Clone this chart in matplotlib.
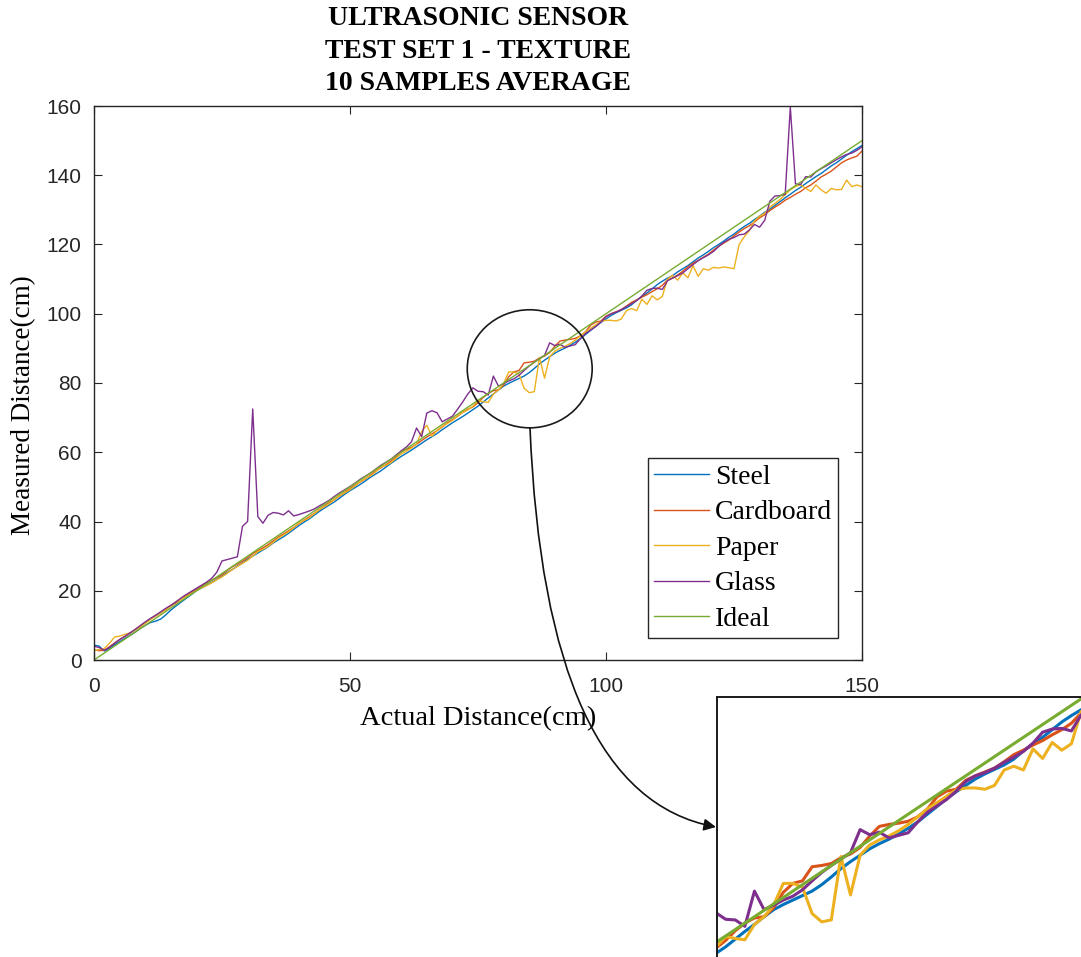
import matplotlib
matplotlib.use('Agg')
import matplotlib.pyplot as plt
from matplotlib.patches import Ellipse, FancyArrowPatch
from matplotlib.path import Path
from matplotlib.transforms import Affine2D

# actual distance steps (cm)
actual = list(range(151))

steel = [
    4.3, 4.0, 2.6, 3.3, 4.4, 5.3, 6.2, 7.1, 8.0, 9.1,
    10.0, 10.8, 11.2, 11.8, 13.0, 14.4, 15.6, 16.7, 17.8, 18.9,
    20.0, 20.8, 21.6, 22.4, 23.3, 24.2, 25.2, 26.1, 27.1, 28.0,
    29.1, 30.0, 30.9, 31.8, 32.7, 33.8, 34.7, 35.6, 36.6, 37.7,
    38.8, 39.8, 40.7, 41.8, 42.9, 43.9, 44.8, 45.7, 46.8, 47.9,
    48.9, 49.8, 50.7, 51.7, 52.8, 53.7, 54.6, 55.7, 56.8, 57.8,
    58.8, 59.7, 60.6, 61.6, 62.6, 63.6, 64.5, 65.4, 66.5, 67.5,
    68.5, 69.4, 70.3, 71.3, 72.3, 73.3, 74.5, 75.7, 76.8, 78.0,
    79.1, 79.9, 80.6, 81.3, 82.0, 83.0, 84.2, 85.5, 86.6, 87.6,
    88.6, 89.4, 90.1, 90.9, 91.8, 92.8, 94.0, 95.2, 96.4, 97.5,
    98.5, 99.5, 100.3, 101.0, 101.7, 102.6, 103.9, 105.0, 106.0, 107.2,
    108.4, 109.4, 110.3, 111.0, 112.1, 113.0, 113.9, 115.0, 116.1, 117.0,
    118.0, 119.1, 120.0, 121.0, 122.1, 123.0, 124.2, 125.2, 126.1, 127.2,
    128.2, 129.3, 130.2, 131.3, 132.4, 133.5, 134.5, 135.6, 136.5, 137.6,
    138.6, 139.6, 140.5, 141.6, 142.7, 143.6, 144.7, 145.8, 146.8, 147.7,
    148.6]

cardboard = [
    2.9, 2.7, 2.8, 3.8, 4.9, 5.9, 6.8, 7.7, 8.7, 9.8,
    10.8, 11.8, 12.7, 13.6, 14.6, 15.6, 16.5, 17.6, 18.7, 19.5,
    20.4, 21.3, 22.2, 23.0, 23.8, 24.6, 25.8, 26.9, 27.7, 28.5,
    29.6, 30.7, 31.6, 32.4, 33.3, 34.4, 35.5, 36.4, 37.3, 38.3,
    39.4, 40.4, 41.3, 42.3, 43.4, 44.5, 45.5, 46.4, 47.4, 48.5,
    49.5, 50.5, 51.4, 52.3, 53.4, 54.5, 55.5, 56.4, 57.4, 58.6,
    60.2, 60.8, 61.4, 62.3, 63.4, 64.4, 65.3, 66.2, 67.3, 68.5,
    69.4, 70.4, 71.5, 72.4, 73.1, 74.3, 75.8, 77.0, 77.8, 78.0,
    79.4, 81.8, 83.2, 83.6, 85.8, 86.0, 86.3, 87.2, 87.8, 88.8,
    90.6, 92.1, 92.4, 92.6, 92.9, 93.6, 94.8, 96.7, 97.6, 97.9,
    99.3, 100.0, 100.6, 101.2, 102.2, 103.3, 104.0, 104.8, 105.5, 106.4,
    107.2, 108.2, 109.8, 110.3, 111.2, 112.3, 113.5, 114.6, 115.4, 116.3,
    117.2, 118.4, 119.5, 120.4, 121.3, 122.5, 123.6, 124.6, 125.4, 126.5,
    127.7, 128.6, 129.8, 130.8, 131.7, 132.8, 133.6, 134.5, 135.3, 136.4,
    137.2, 138.3, 139.5, 140.3, 141.2, 142.4, 143.6, 144.4, 145.0, 145.5,
    147.0]

paper = [
    2.7, 3.0, 3.3, 4.8, 6.6, 6.9, 7.4, 7.8, 8.6, 9.5,
    10.6, 11.7, 12.8, 13.6, 14.5, 15.7, 16.8, 17.6, 18.4, 19.2,
    20.0, 20.8, 21.5, 22.3, 23.2, 24.0, 25.0, 26.1, 27.0, 27.9,
    28.8, 30.0, 31.3, 32.0, 32.8, 34.0, 35.2, 36.1, 37.0, 38.2,
    39.5, 40.3, 41.0, 42.2, 43.4, 44.3, 45.2, 46.4, 47.5, 48.3,
    49.2, 50.3, 51.5, 52.4, 53.2, 54.3, 55.8, 56.2, 57.0, 58.3,
    59.5, 60.3, 61.2, 62.4, 66.0, 67.8, 64.6, 66.3, 67.4, 68.3,
    69.2, 70.4, 71.5, 72.2, 73.3, 74.9, 74.6, 74.4, 76.8, 78.0,
    79.8, 83.2, 83.2, 82.6, 78.5, 77.2, 77.5, 87.4, 81.4, 87.6,
    89.2, 90.0, 90.6, 91.4, 92.4, 93.6, 94.8, 95.8, 96.8, 97.8,
    98.1, 98.1, 97.9, 98.5, 100.9, 101.5, 100.9, 104.2, 102.7, 105.2,
    104.0, 105.0, 110.0, 111.1, 109.7, 111.8, 110.4, 113.9, 110.8, 113.0,
    112.6, 113.4, 113.2, 113.5, 113.3, 113.0, 120.0, 122.2, 124.0, 126.8,
    128.2, 129.0, 130.8, 131.9, 133.0, 134.4, 135.8, 136.7, 137.3, 136.2,
    135.3, 137.2, 135.8, 134.8, 136.2, 135.8, 135.9, 138.6, 136.7, 137.2,
    136.7]

glass = [
    4.0, 3.6, 2.8, 3.6, 4.8, 5.9, 6.8, 7.8, 8.8, 9.9,
    11.0, 12.0, 12.9, 13.9, 14.9, 15.8, 16.8, 17.9, 18.9, 19.8,
    20.7, 21.6, 22.5, 23.6, 25.4, 28.6, 29.0, 29.4, 29.8, 38.6,
    40.0, 72.5, 41.4, 39.5, 41.8, 42.6, 42.4, 41.9, 43.1, 41.6,
    42.0, 42.5, 43.0, 43.6, 44.5, 45.3, 46.2, 47.3, 48.3, 49.2,
    50.1, 51.1, 52.2, 53.1, 54.0, 55.1, 56.2, 57.1, 58.0, 59.2,
    60.4, 61.5, 63.0, 67.0, 64.5, 71.3, 72.0, 71.4, 68.8, 69.6,
    70.4, 72.4, 74.5, 76.8, 78.6, 77.6, 77.5, 76.5, 82.0, 79.1,
    79.8, 80.6, 81.2, 82.2, 83.6, 84.9, 86.0, 87.0, 88.0, 91.6,
    90.8, 91.2, 90.3, 90.7, 91.1, 92.8, 94.3, 95.3, 96.3, 97.6,
    99.1, 100.0, 100.5, 101.2, 102.1, 102.9, 103.8, 105.1, 106.8, 107.3,
    107.4, 107.0, 109.5, 110.3, 111.0, 111.8, 113.0, 114.2, 115.3, 116.2,
    117.0, 118.0, 119.4, 120.6, 121.5, 122.0, 122.8, 123.0, 124.2, 125.8,
    125.0, 127.0, 132.5, 134.0, 134.1, 134.5, 159.7, 137.5, 137.3, 139.6,
    139.5, 141.0, 141.9, 142.7, 143.6, 144.5, 145.3, 146.0, 146.4, 147.2,
    148.2]

names = ['Steel', 'Cardboard', 'Paper', 'Glass', 'Ideal']
colors = ['#0072BD', '#D95319', '#EDB120', '#7E2F8E', '#77AC30']
series = [steel, cardboard, paper, glass, actual]

serif = 'Liberation Serif'
plt.rcParams['font.family'] = 'Liberation Sans'

W, H = 1081, 957
fig = plt.figure(figsize=(W / 100, H / 100), dpi=100)

# main axes
ax = fig.add_axes([94 / W, 1 - 660 / H, 768 / W, 554 / H])
for name, vals, c in zip(names, series, colors):
    ax.plot(actual, vals, color=c, lw=1.0, label=name)

ax.set_xlim(0, 150)
ax.set_ylim(0, 160)
ax.set_xticks([0, 50, 100, 150])
ax.set_yticks(range(0, 161, 20))
ax.tick_params(direction='in', top=True, right=True, length=6, width=0.8,
               colors='#262626', labelsize=15)
ax.tick_params(axis='x', pad=12)
ax.tick_params(axis='y', pad=9)
for s in ax.spines.values():
    s.set_color('#262626')
    s.set_linewidth(1.0)

ax.set_xlabel('Actual Distance(cm)', fontfamily=serif, fontsize=20.5)
ax.set_ylabel('Measured Distance(cm)', fontfamily=serif, fontsize=19.5)
ax.xaxis.set_label_coords(0.5, -0.083)
ax.yaxis.set_label_coords(-0.076, 0.46)

fig.text(478 / W, 1 - 51 / H,
         'ULTRASONIC SENSOR\nTEST SET 1 - TEXTURE\n10 SAMPLES AVERAGE',
         ha='center', va='center', ma='center', fontfamily=serif,
         fontweight='bold', fontsize=20, linespacing=1.4)

leg = ax.legend(loc='lower right', bbox_to_anchor=(0.969, 0.040),
                borderaxespad=0, prop={'family': serif, 'size': 20},
                fancybox=False, edgecolor='#262626', framealpha=1,
                handlelength=2.0, handletextpad=0.2, labelspacing=0.36,
                borderpad=0.22)
leg.get_frame().set_linewidth(1.0)

# circle around the zoomed region
ax.add_patch(Ellipse((85.1, 84.1), 24.4, 34.1, fill=False, ec='#1a1a1a',
                     lw=1.2, clip_on=False, zorder=6))

# zoomed inset, running off the figure edge
ins = fig.add_axes([717 / W, 1 - 1000 / H, 413 / W, 303 / H])
for name, vals, c in zip(names, series, colors):
    ins.plot(actual, vals, color=c, lw=2.2)
ins.set_xlim(74.1, 117.1)
ins.set_ylim(65.0, 112.3)
ins.set_xticks([])
ins.set_yticks([])
for s in ins.spines.values():
    s.set_color('#1a1a1a')
    s.set_linewidth(1.4)

# curved arrow from the circle to the inset (pixel coordinates)
px = Affine2D().scale(1 / W, -1 / H).translate(0, 1) + fig.transFigure
arrow_path = Path([(530, 428), (545, 795), (716, 827)],
                  [Path.MOVETO, Path.CURVE3, Path.CURVE3])
arrow = FancyArrowPatch(path=arrow_path, arrowstyle='-|>', mutation_scale=18,
                        lw=1.2, color='#111111', transform=px, zorder=10)
fig.add_artist(arrow)

fig.savefig('out.png', dpi=100)
